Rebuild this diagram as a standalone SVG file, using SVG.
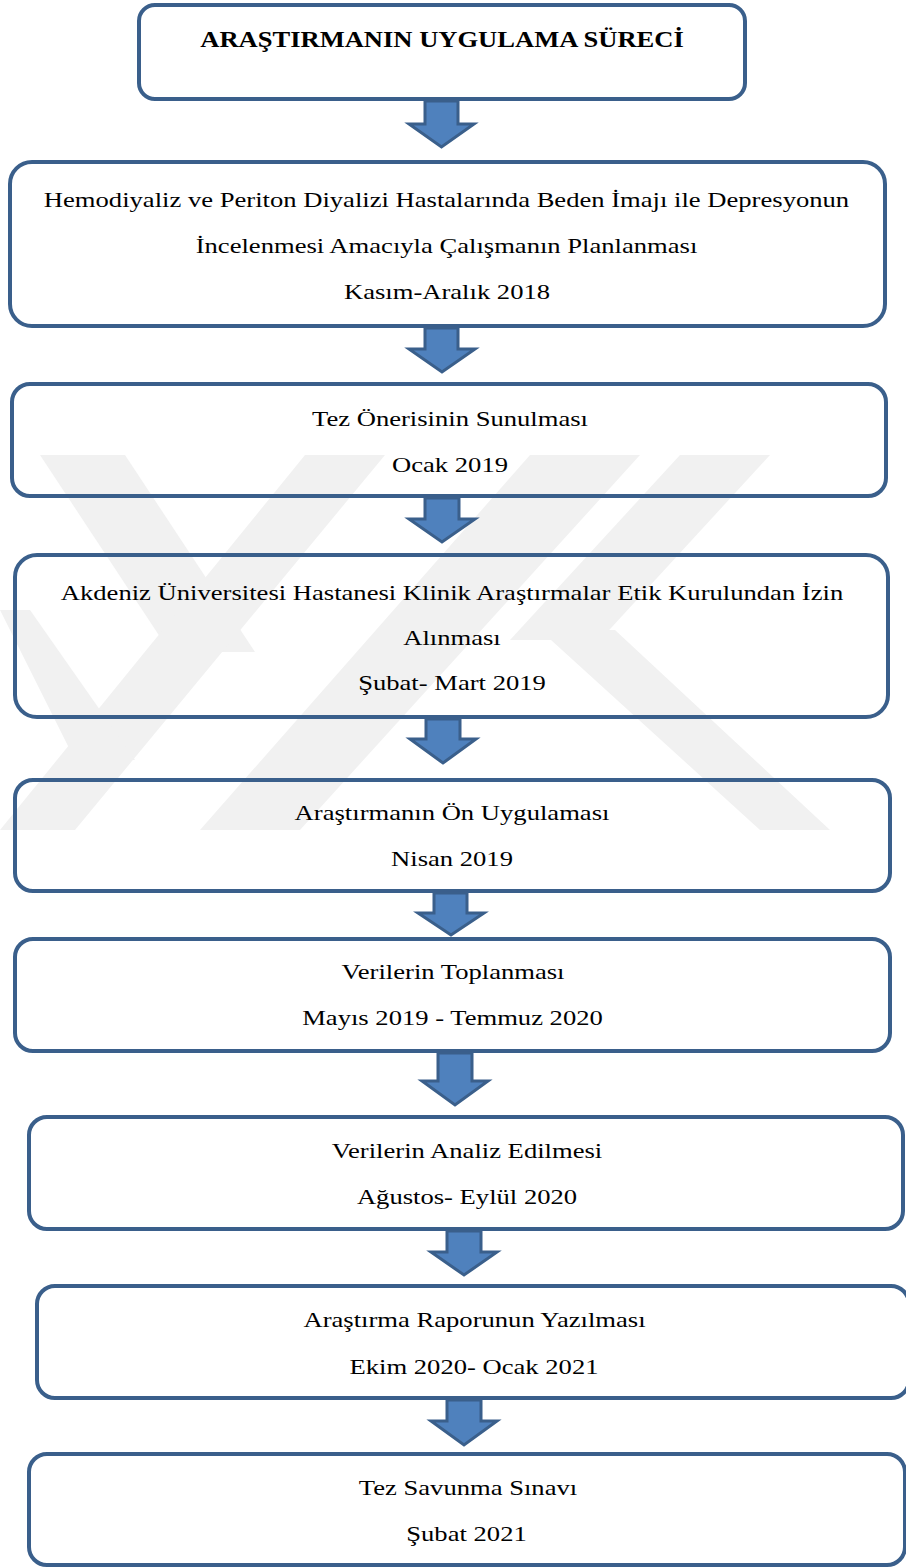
<svg xmlns="http://www.w3.org/2000/svg" width="906" height="1568" viewBox="0 0 906 1568">
<style>
.box{fill:none;stroke:#3A5F8B;stroke-width:4}
.arr{fill:#4F81BD;stroke:#3A5F8B;stroke-width:3;stroke-linejoin:miter}
.t{font-family:"Liberation Serif","Times New Roman",serif;font-size:22px;fill:#000;text-anchor:middle}
.tb{font-family:"Liberation Serif","Times New Roman",serif;font-size:22.5px;font-weight:bold;fill:#000;text-anchor:middle}
.wm{fill:#F1F1F1}
</style>
<rect width="906" height="1568" fill="#fff"/>
<g id="watermark">
<polygon class="wm" points="40,455 125,455 255,652 170,652"/>
<polygon class="wm" points="305,455 385,455 75,830 0,830"/>
<polygon class="wm" points="530,455 640,455 300,830 200,830"/>
<polygon class="wm" points="680,455 770,455 600,640 510,640"/>
<polygon class="wm" points="540,630 615,630 830,830 760,830"/>
<polygon class="wm" points="0,610 30,610 135,760 75,760"/>
</g>
<g id="node-0">
<rect class="box" x="139" y="5" width="606" height="94" rx="16"/>
<text class="tb" transform="translate(442,47) scale(1.18,1)">ARAŞTIRMANIN UYGULAMA SÜRECİ</text>
</g>
<g id="node-1">
<rect class="box" x="10" y="162" width="875" height="164" rx="22"/>
<text class="t" transform="translate(446.5,207) scale(1.21,1)">Hemodiyaliz ve Periton Diyalizi Hastalarında Beden İmajı ile Depresyonun</text>
<text class="t" transform="translate(446.5,253) scale(1.21,1)">İncelenmesi Amacıyla Çalışmanın Planlanması</text>
<text class="t" transform="translate(447,299) scale(1.21,1)">Kasım-Aralık 2018</text>
</g>
<g id="node-2">
<rect class="box" x="12" y="384" width="874" height="112" rx="18"/>
<text class="t" transform="translate(450,426) scale(1.21,1)">Tez Önerisinin Sunulması</text>
<text class="t" transform="translate(450,472) scale(1.21,1)">Ocak 2019</text>
</g>
<g id="node-3">
<rect class="box" x="15" y="555" width="873" height="162" rx="22"/>
<text class="t" transform="translate(452,600) scale(1.21,1)">Akdeniz Üniversitesi Hastanesi Klinik Araştırmalar Etik Kurulundan İzin</text>
<text class="t" transform="translate(452,645) scale(1.21,1)">Alınması</text>
<text class="t" transform="translate(452,690) scale(1.21,1)">Şubat- Mart 2019</text>
</g>
<g id="node-4">
<rect class="box" x="15" y="780" width="875" height="111" rx="18"/>
<text class="t" transform="translate(452,820) scale(1.21,1)">Araştırmanın Ön Uygulaması</text>
<text class="t" transform="translate(452,866) scale(1.21,1)">Nisan 2019</text>
</g>
<g id="node-5">
<rect class="box" x="15" y="939" width="875" height="112" rx="18"/>
<text class="t" transform="translate(453,979) scale(1.21,1)">Verilerin Toplanması</text>
<text class="t" transform="translate(452.5,1025) scale(1.21,1)">Mayıs 2019 - Temmuz 2020</text>
</g>
<g id="node-6">
<rect class="box" x="29" y="1117" width="874" height="112" rx="18"/>
<text class="t" transform="translate(467,1158) scale(1.21,1)">Verilerin Analiz Edilmesi</text>
<text class="t" transform="translate(467,1204) scale(1.21,1)">Ağustos- Eylül 2020</text>
</g>
<g id="node-7">
<rect class="box" x="37" y="1286" width="872" height="112" rx="18"/>
<text class="t" transform="translate(474.5,1327) scale(1.21,1)">Araştırma Raporunun Yazılması</text>
<text class="t" transform="translate(474,1374) scale(1.21,1)">Ekim 2020- Ocak 2021</text>
</g>
<g id="node-8">
<rect class="box" x="29" y="1454" width="876" height="111" rx="18"/>
<text class="t" transform="translate(468,1495) scale(1.21,1)">Tez Savunma Sınavı</text>
<text class="t" transform="translate(466.5,1541) scale(1.21,1)">Şubat 2021</text>
</g>
<g id="connectors">
<path class="arr" d="M425,101 L458,101 L458,124 L474,124 L441.5,147 L409,124 L425,124 Z"/>
<path class="arr" d="M425,328 L458,328 L458,349 L475,349 L442,372 L409,349 L425,349 Z"/>
<path class="arr" d="M425,498 L459,498 L459,519 L475,519 L442,542 L409,519 L425,519 Z"/>
<path class="arr" d="M426,719 L460,719 L460,739 L476,739 L443,763 L410,739 L426,739 Z"/>
<path class="arr" d="M434,893 L467,893 L467,913 L484,913 L451,935 L418,913 L434,913 Z"/>
<path class="arr" d="M438,1053 L472,1053 L472,1081 L488,1081 L455,1105 L422,1081 L438,1081 Z"/>
<path class="arr" d="M447,1231 L481,1231 L481,1252 L497,1252 L464,1275 L431,1252 L447,1252 Z"/>
<path class="arr" d="M447,1400 L481,1400 L481,1421 L497,1421 L464,1445 L431,1421 L447,1421 Z"/>
</g>
</svg>
